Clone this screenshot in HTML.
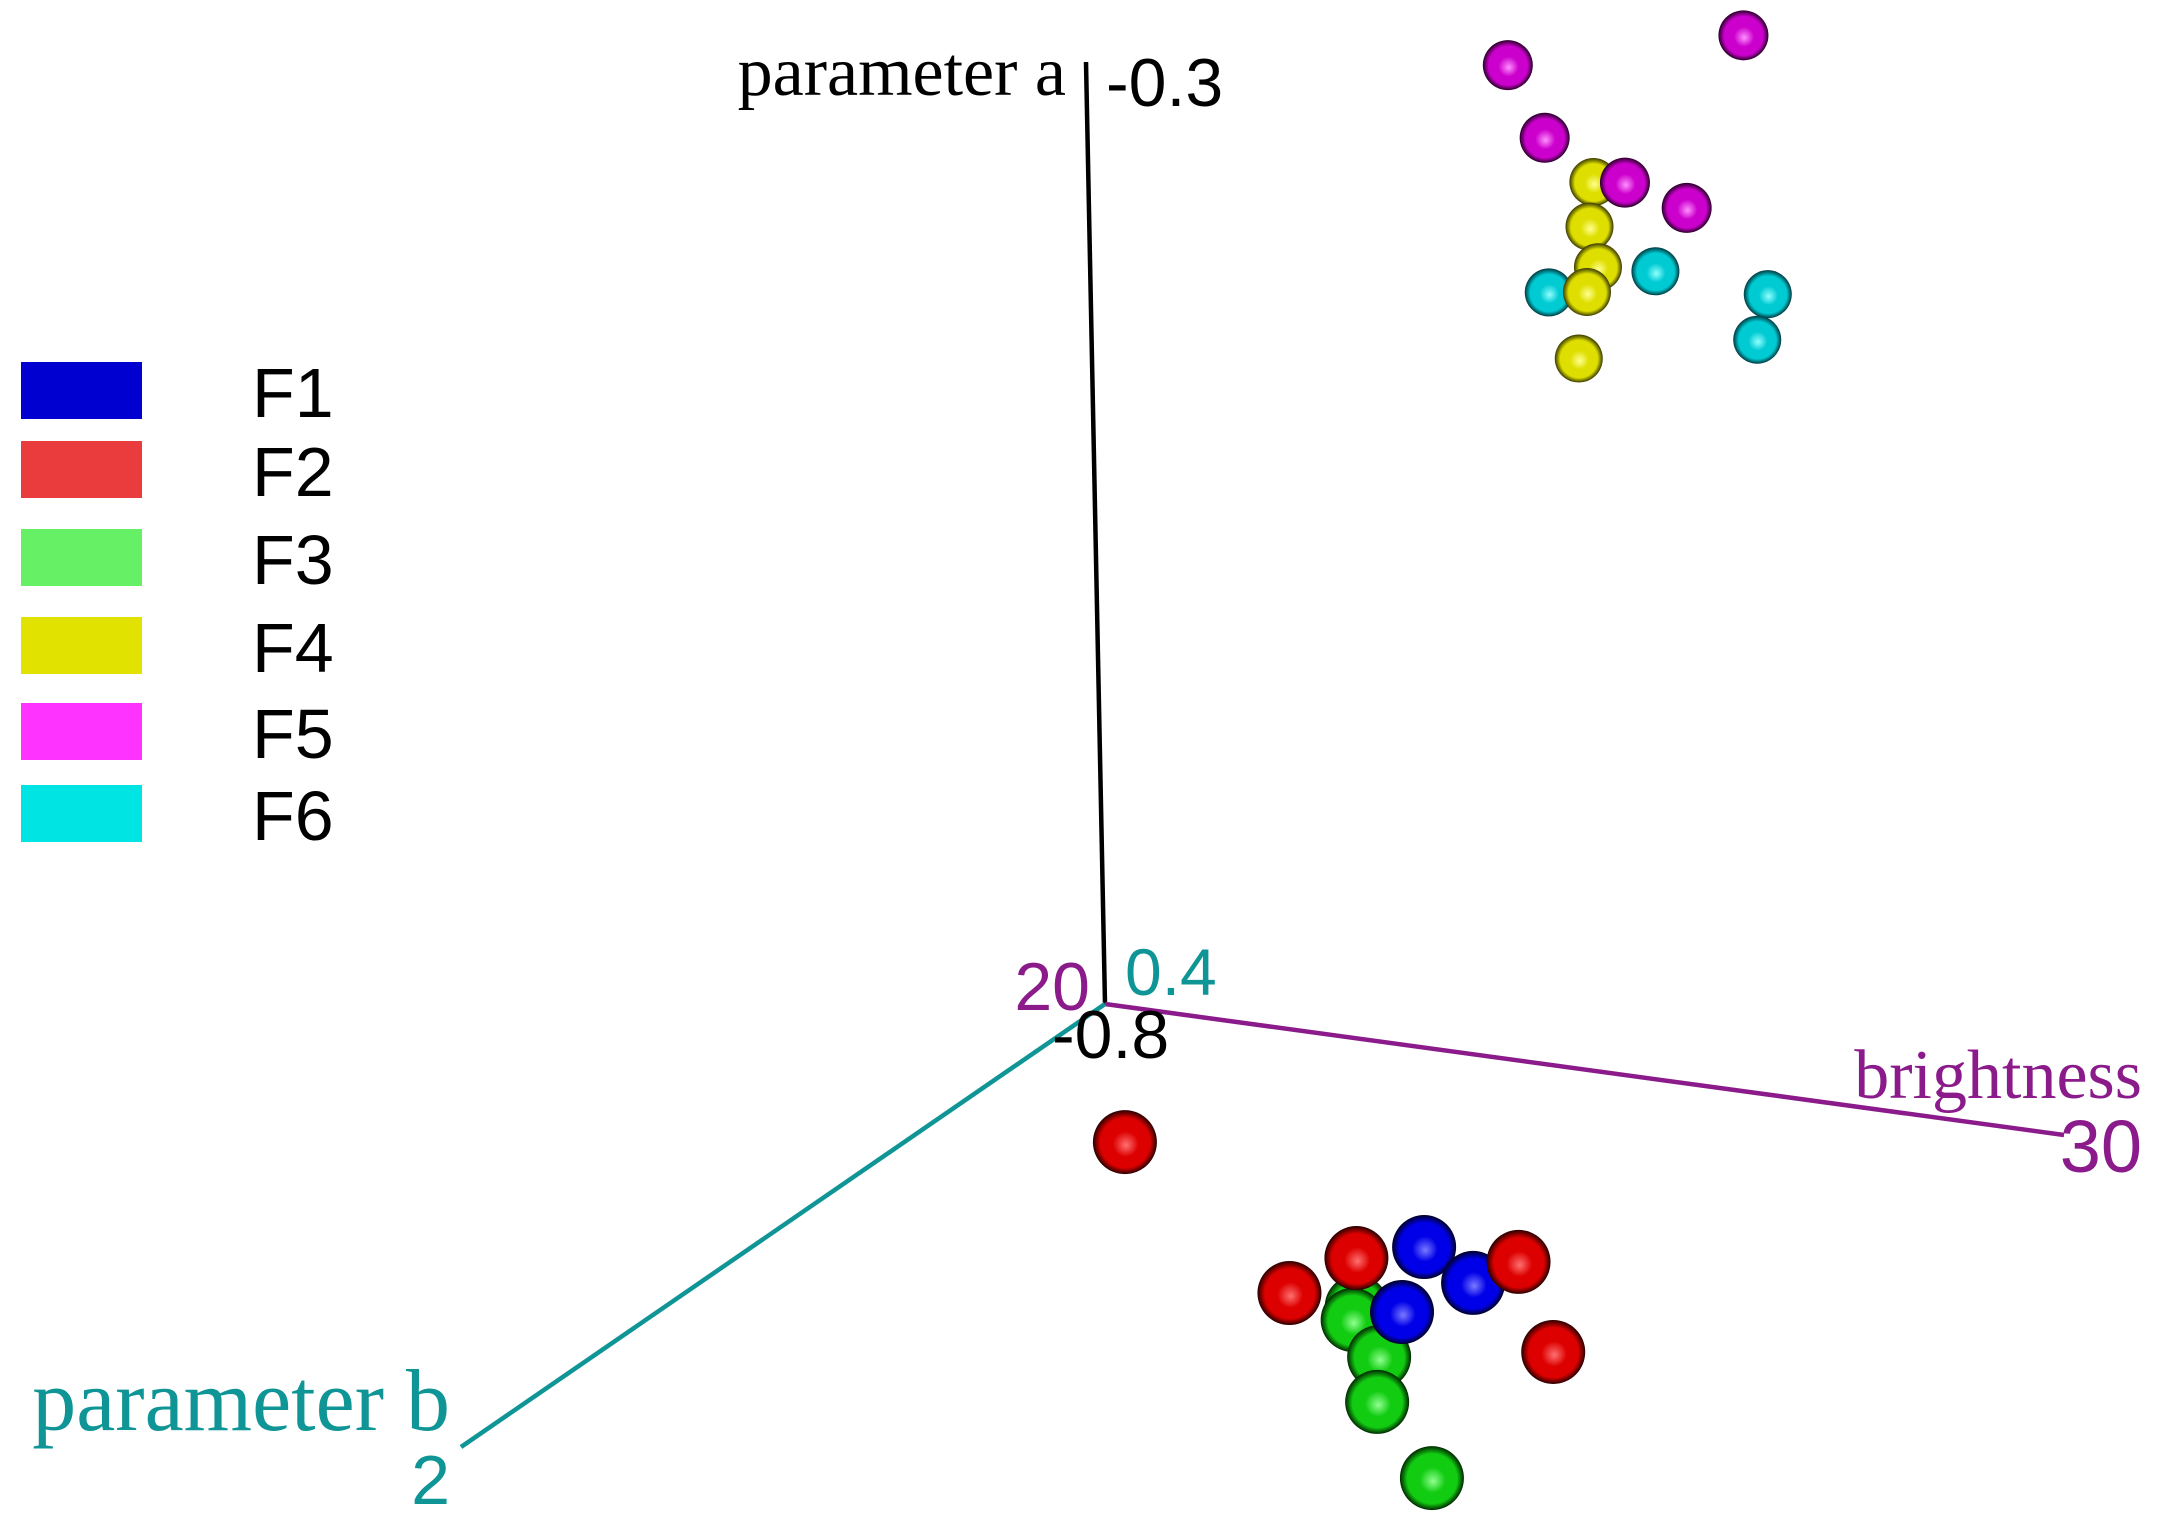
<!DOCTYPE html>
<html><head><meta charset="utf-8"><style>
html,body{margin:0;padding:0;background:#fff;}
svg{display:block;}
</style></head><body>
<svg id="chart" width="2157" height="1535" viewBox="0 0 2157 1535" xmlns="http://www.w3.org/2000/svg">
<defs id="defs"></defs>
<g id="legend"></g>
<g id="axes">
  <line x1="1105" y1="1004" x2="1086" y2="62" stroke="#000" stroke-width="4.5"/>
  <line x1="1105" y1="1004" x2="2064" y2="1135" stroke="#8b1a8b" stroke-width="4.5"/>
  <line x1="1105" y1="1004" x2="461" y2="1447" stroke="#0f9595" stroke-width="4.5"/>
  <text x="1066" y="95" text-anchor="end" font-family="Liberation Serif, serif" font-size="70" fill="#000">parameter a</text>
  <text x="1106" y="106" font-family="Liberation Sans, sans-serif" font-size="68" fill="#000">-0.3</text>
  <text x="1090" y="1010" text-anchor="end" font-family="Liberation Sans, sans-serif" font-size="68" fill="#8b1a8b">20</text>
  <text x="1125" y="995" font-family="Liberation Sans, sans-serif" font-size="66" fill="#0f9595">0.4</text>
  <text x="1052" y="1058" font-family="Liberation Sans, sans-serif" font-size="68" fill="#000">-0.8</text>
  <text x="2142" y="1098" text-anchor="end" font-family="Liberation Serif, serif" font-size="70" fill="#8b1a8b">brightness</text>
  <text x="2142" y="1172" text-anchor="end" font-family="Liberation Sans, sans-serif" font-size="74" fill="#8b1a8b">30</text>
  <text x="450" y="1430" text-anchor="end" font-family="Liberation Serif, serif" font-size="88" fill="#0f9595">parameter b</text>
  <text x="450" y="1504" text-anchor="end" font-family="Liberation Sans, sans-serif" font-size="70" fill="#0f9595">2</text>
</g>
<g id="points"></g>
</svg>
<script>
// Data: brightness (20..30), parameter a (-0.8..-0.3), parameter b (0.4..2)
const seriesNames = ["F6","F4","F5","F3","F1","F2"];
const F1_bright = [25.85, 26.73, 26.48];
const F1_a = [-0.8, -0.8, -0.8];
const F1_b = [1.001, 1.089, 1.206];
const F2_bright = [21.92, 25.26, 25.40, 26.86, 28.30];
const F2_a = [-0.8, -0.8, -0.8, -0.8, -0.8];
const F2_b = [0.808, 1.195, 1.062, 1.007, 1.264];
const F3_bright = [26.02, 26.15, 26.85, 27.40, 28.84];
const F3_a = [-0.8, -0.8, -0.8, -0.8, -0.8];
const F3_b = [1.209, 1.250, 1.351, 1.487, 1.694];
const F4_bright = [25.28, 25.23, 25.31, 25.19, 25.09];
const F4_a = [-0.327, -0.351, -0.372, -0.386, -0.422];
const F4_b = [0.4, 0.4, 0.4, 0.4, 0.4];
const F5_bright = [26.88, 24.41, 24.78, 25.61, 26.25];
const F5_a = [-0.238, -0.271, -0.307, -0.325, -0.334];
const F5_b = [0.4, 0.4, 0.4, 0.4, 0.4];
const F6_bright = [24.79, 25.91, 27.08, 26.96];
const F6_a = [-0.389, -0.370, -0.374, -0.399];
const F6_b = [0.4, 0.4, 0.4, 0.4];
const legendLabels = ["F1","F2","F3","F4","F5","F6"];

const data = {
  F1:[F1_bright,F1_a,F1_b], F2:[F2_bright,F2_a,F2_b], F3:[F3_bright,F3_a,F3_b],
  F4:[F4_bright,F4_a,F4_b], F5:[F5_bright,F5_a,F5_b], F6:[F6_bright,F6_a,F6_b]
};
const style = {
  F1:{legend:"#0000d0", base:"#0000e8", hi:"#7a7aff", dark:"#000028", r:32},
  F2:{legend:"#ea3c3c", base:"#dd0000", hi:"#ff7070", dark:"#280000", r:32},
  F3:{legend:"#66f066", base:"#12cc12", hi:"#90ff90", dark:"#002800", r:32},
  F4:{legend:"#e2e200", base:"#dede00", hi:"#ffff90", dark:"#3a3a00", r:24},
  F5:{legend:"#ff33ff", base:"#cc00cc", hi:"#ff90ff", dark:"#280028", r:25},
  F6:{legend:"#00e4e4", base:"#00cad2", hi:"#90ffff", dark:"#003a40", r:24}
};
// axis functions
const O = [1105,1004];
const Vb = [959,131], Va = [-19,-942], Vp = [-644,443];
function project(br, a, b){
  const u=(br-20)/10, v=(a+0.8)/0.5, w=(b-0.4)/1.6;
  return [O[0]+u*Vb[0]+v*Va[0]+w*Vp[0], O[1]+u*Vb[1]+v*Va[1]+w*Vp[1]];
}
const NS="http://www.w3.org/2000/svg";
const defs=document.getElementById('defs');
for(const k in style){
  const s=style[k];
  const g=document.createElementNS(NS,'radialGradient');
  g.setAttribute('id','grad-'+k);
  g.setAttribute('cx','0.5');g.setAttribute('cy','0.5');g.setAttribute('r','0.5');
  g.setAttribute('fx','0.52');g.setAttribute('fy','0.55');
  [[0,s.hi],[0.4,s.base],[0.78,s.base],[1,s.dark]].forEach(([o,c])=>{
    const st=document.createElementNS(NS,'stop');
    st.setAttribute('offset',o);st.setAttribute('stop-color',c);g.appendChild(st);
  });
  defs.appendChild(g);
}
const pts=document.getElementById('points');
seriesNames.forEach(k=>{
  const [B,A,P]=data[k];
  const grp=document.createElementNS(NS,'g');
  
  
  for(let i=0;i<B.length;i++){
    const [x,y]=project(B[i],A[i],P[i]);
    const c=document.createElementNS(NS,'circle');
    c.setAttribute('cx',x);c.setAttribute('cy',y);c.setAttribute('r',style[k].r);
    c.setAttribute('fill','url(#grad-'+k+')');
    
    
    grp.appendChild(c);
  }
  pts.appendChild(grp);
});
const leg=document.getElementById('legend');
const swY=[362,441,529,617,703,785];
legendLabels.forEach((k,i)=>{
  const r=document.createElementNS(NS,'rect');
  r.setAttribute('x',21);r.setAttribute('y',swY[i]);r.setAttribute('width',121);r.setAttribute('height',57);
  r.setAttribute('fill',style[k].legend);
  
  
  leg.appendChild(r);
  const t=document.createElementNS(NS,'text');
  t.setAttribute('x',252);t.setAttribute('y',swY[i]+55);
  t.setAttribute('font-family','Liberation Sans, sans-serif');t.setAttribute('font-size','70');
  t.textContent=k;
  
  
  leg.appendChild(t);
});
</script>
</body></html>
